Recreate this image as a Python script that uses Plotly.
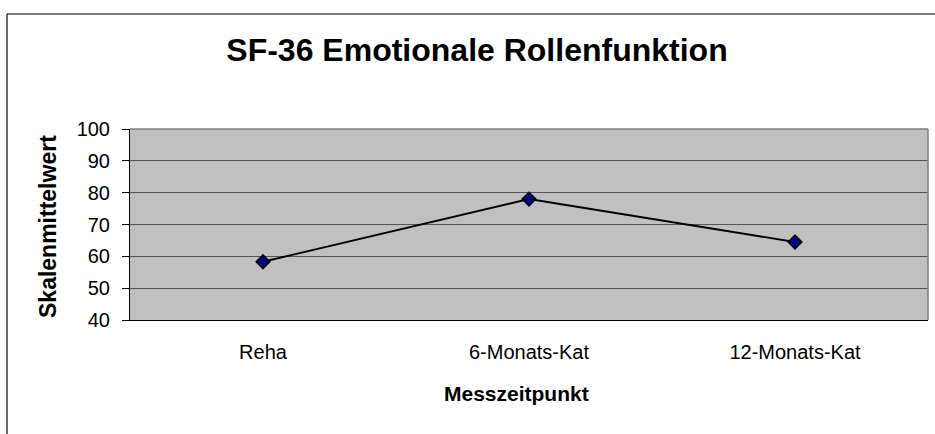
import plotly.graph_objects as go

categories = ["Reha", "6-Monats-Kat", "12-Monats-Kat"]
values = [58.3, 78.0, 64.5]
y_ticks = [40, 50, 60, 70, 80, 90, 100]

W, H = 935, 434
L, R, T, B = 130, 7, 129, 114
pw = W - L - R
ph = H - T - B

def px_x(x):
    return (x - L) / pw

def px_y(y):
    return (H - B - y) / ph

FONT = "Liberation Sans, Arial, sans-serif"

fig = go.Figure()
fig.add_trace(go.Scatter(
    x=categories, y=values, mode="lines+markers",
    line=dict(color="black", width=1.8),
    marker=dict(symbol="diamond", size=10.5, color="#000080",
                line=dict(color="black", width=1.5)),
    showlegend=False, hoverinfo="x+y",
))

fig.update_layout(
    width=W, height=H,
    margin=dict(l=L, r=R, t=T, b=B, autoexpand=False),
    paper_bgcolor="white",
    plot_bgcolor="#C0C0C0",
    font=dict(family=FONT, color="black"),
    title=dict(text="SF-36 Emotionale Rollenfunktion",
               font=dict(family=FONT, size=32, color="black", weight="bold"),
               x=477 / W, xanchor="center", xref="container",
               y=1 - 50 / H, yanchor="middle", yref="container"),
    xaxis=dict(type="category", range=[-0.5, 2.5], showgrid=False,
               showline=True, linecolor="black", linewidth=1,
               ticks="", tickfont=dict(size=20, family=FONT, color="black"),
               ticklabelstandoff=14, zeroline=False, fixedrange=True),
    yaxis=dict(range=[40, 100], tickvals=y_ticks, showgrid=True,
               gridcolor="#555555", gridwidth=1,
               showline=True, linecolor="black", linewidth=1,
               ticks="outside", ticklen=7, tickcolor="black", tickwidth=1,
               tickfont=dict(size=20, family=FONT, color="black"),
               ticklabelstandoff=8, zeroline=False, fixedrange=True),
    shapes=[
        # gray plot-area border (top and right)
        dict(type="line", xref="paper", yref="paper", x0=0, x1=1, y0=1, y1=1,
             line=dict(color="#808080", width=1.5)),
        dict(type="line", xref="paper", yref="paper", x0=1, x1=1, y0=0, y1=1,
             line=dict(color="#808080", width=1.5)),
        # outer chart border (cropped)
        dict(type="line", xref="paper", yref="paper",
             x0=px_x(7), x1=px_x(W + 10), y0=px_y(14), y1=px_y(14),
             line=dict(color="black", width=1.2)),
        dict(type="line", xref="paper", yref="paper",
             x0=px_x(7), x1=px_x(7), y0=px_y(14), y1=px_y(H + 10),
             line=dict(color="black", width=1.2)),
    ],
    annotations=[
        dict(text="<b>Skalenmittelwert</b>", xref="paper", yref="paper",
             x=px_x(48), y=px_y(227), textangle=-90, showarrow=False,
             xanchor="center", yanchor="middle",
             font=dict(family=FONT, size=23, color="black")),
        dict(text="<b>Messzeitpunkt</b>", xref="paper", yref="paper",
             x=px_x(516), y=px_y(393), showarrow=False,
             xanchor="center", yanchor="middle",
             font=dict(family=FONT, size=21, color="black")),
    ],
)

fig.write_html("out.html",
               config={"displayModeBar": False},
               post_script="document.body.style.margin='0';document.body.style.overflow='hidden';")
